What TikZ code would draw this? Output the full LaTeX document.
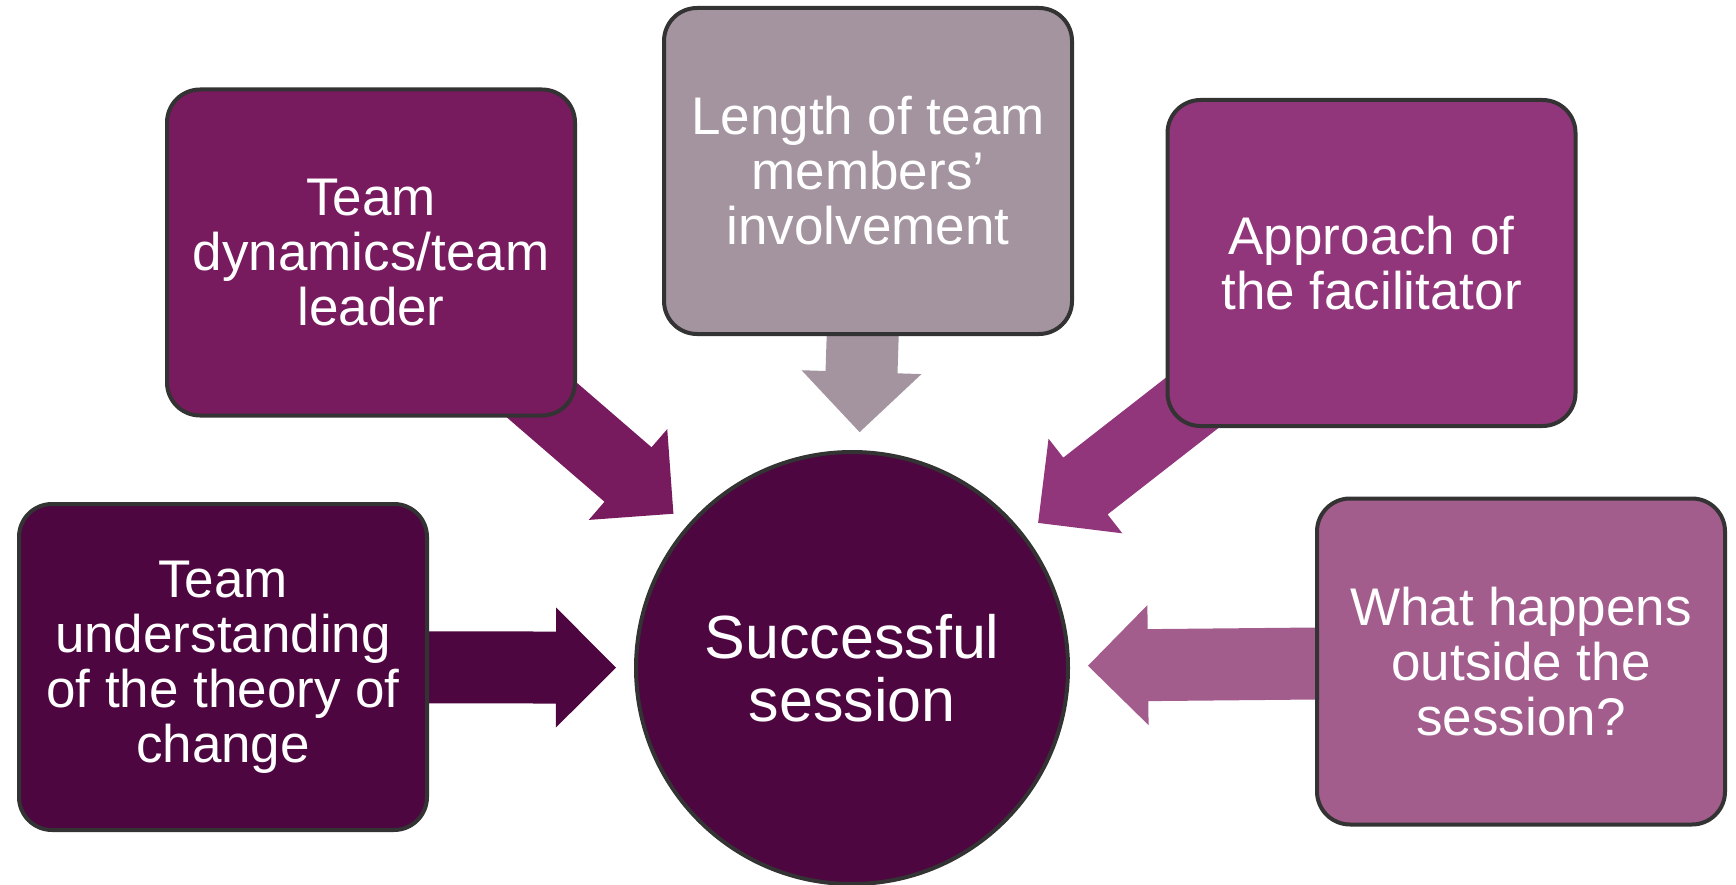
\documentclass[tikz,border=0pt]{standalone}
\usepackage{fontspec}
\setmainfont{Liberation Sans}
\usetikzlibrary{calc,backgrounds}
\definecolor{cA}{HTML}{4E0640}
\definecolor{cB}{HTML}{771A5E}
\definecolor{cC}{HTML}{A3949F}
\definecolor{cD}{HTML}{91367A}
\definecolor{cE}{HTML}{A35D8D}
\definecolor{edgegray}{HTML}{333333}
\tikzset{
  factorbox/.style={rectangle, rounded corners=33pt, draw=edgegray, line width=4pt,
    minimum width=408pt, minimum height=326pt, text=white, align=center,
    font={\fontsize{53}{55}\selectfont}, inner sep=0pt},
  hubcircle/.style={circle, draw=edgegray, line width=4pt, minimum size=432pt,
    fill=cA, text=white, align=center, font={\fontsize{61}{63}\selectfont}, inner sep=0pt}
}
% block arrow from a box (tail at its centre) towards the hub
\newcommand\blkarrow[2]{%
  \coordinate (at) at (#2.center);
  \coordinate (ap) at ($(hub.center)!236pt!(#2.center)$);
  \coordinate (ah) at ($(ap)!60pt!(at)$);
  \fill[#1] (ap) -- ($(ah)!60pt!90:(ap)$) -- ($(ah)!36pt!90:(ap)$)
    -- ($(at)!36pt!90:(ap)$) -- ($(at)!36pt!-90:(ap)$)
    -- ($(ah)!36pt!-90:(ap)$) -- ($(ah)!60pt!-90:(ap)$) -- cycle;
}
\begin{document}
\begin{tikzpicture}[x=1pt,y=-1pt]
\useasboundingbox (0,0) rectangle (1736,885);
\node[hubcircle] (hub) at (852,668) {Successful\\session};
\node[factorbox, fill=cA] (b1) at (223,667) {Team\\understanding\\of the theory of\\change};
\node[factorbox, fill=cB] (b2) at (371,252.5) {Team\\dynamics/team\\leader};
\node[factorbox, fill=cC] (b3) at (868,171) {Length of team\\members’\\involvement};
\node[factorbox, fill=cD] (b4) at (1371.5,263) {Approach of\\the facilitator};
\node[factorbox, fill=cE] (b5) at (1521,661.5) {What happens\\outside the\\session?};
\begin{scope}[on background layer]
  \fill[white] (0,0) rectangle (1736,885);
  \blkarrow{cA}{b1}
  \blkarrow{cB}{b2}
  \blkarrow{cC}{b3}
  \blkarrow{cD}{b4}
  \blkarrow{cE}{b5}
\end{scope}
\end{tikzpicture}
\end{document}
